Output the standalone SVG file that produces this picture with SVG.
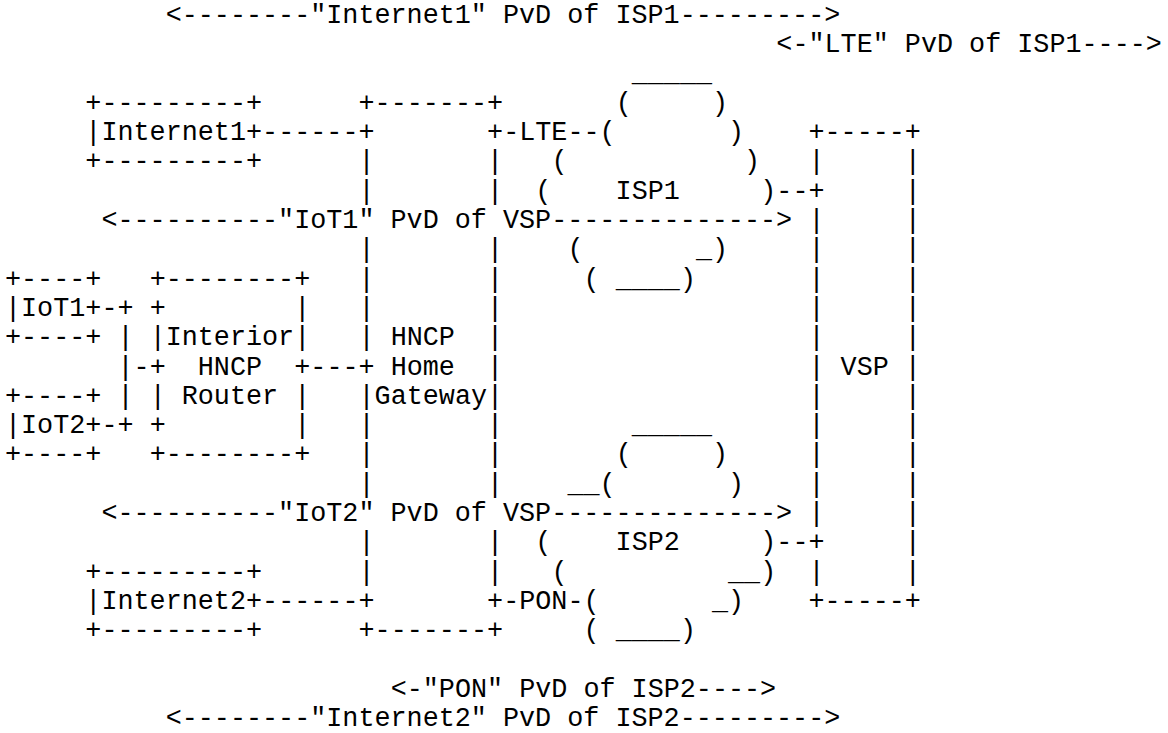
<svg xmlns="http://www.w3.org/2000/svg" width="1168" height="733" viewBox="0 0 1168 733" xml:space="preserve">
<style>
text { font-family: "Liberation Mono", "Courier New", monospace; font-size: 26.78px; fill: #000; white-space: pre; }
</style>
<rect width="1168" height="733" fill="#fff"/>
<g id="pvd-internet1"><text x="165.7" y="22.66">&lt;--------"Internet1" PvD of ISP1---------&gt;</text></g>
<g id="pvd-lte"><text x="776.36" y="51.98">&lt;-"LTE" PvD of ISP1----&gt;</text></g>
<g id="isp1">
<text x="631.73" y="81.3">_____</text>
<text x="615.66" y="110.62">(     )</text>
<text x="599.59" y="139.94">(       )</text>
<text x="551.38" y="169.26">(           )</text>
<text x="535.31" y="198.58">(    ISP1     )</text>
<text x="567.45" y="257.22">(       _)</text>
<text x="583.52" y="286.54">( ____)</text>
</g>
<g id="internet1">
<text x="85.35" y="110.62">+---------+</text>
<text x="85.35" y="139.94">|Internet1+</text>
<text x="85.35" y="169.26">+---------+</text>
</g>
<g id="internet2">
<text x="85.35" y="579.74">+---------+</text>
<text x="85.35" y="609.06">|Internet2+</text>
<text x="85.35" y="638.38">+---------+</text>
</g>
<g id="home-gateway">
<text x="358.54" y="110.62">+-------+</text>
<text x="358.54" y="139.94">+       +</text>
<text x="358.54" y="169.26">|       |</text>
<text x="358.54" y="198.58">|       |</text>
<text x="358.54" y="257.22">|       |</text>
<text x="358.54" y="286.54">|       |</text>
<text x="358.54" y="315.86">|       |</text>
<text x="358.54" y="345.18">| HNCP  |</text>
<text x="358.54" y="374.5">+ Home  |</text>
<text x="358.54" y="403.82">|Gateway|</text>
<text x="358.54" y="433.14">|       |</text>
<text x="358.54" y="462.46">|       |</text>
<text x="358.54" y="491.78">|       |</text>
<text x="358.54" y="550.42">|       |</text>
<text x="358.54" y="579.74">|       |</text>
<text x="358.54" y="609.06">+       +</text>
<text x="358.54" y="638.38">+-------+</text>
</g>
<g id="interior-router">
<text x="149.63" y="286.54">+--------+</text>
<text x="149.63" y="315.86">+        |</text>
<text x="149.63" y="345.18">|Interior|</text>
<text x="149.63" y="374.5">+  HNCP  +</text>
<text x="149.63" y="403.82">| Router |</text>
<text x="149.63" y="433.14">+        |</text>
<text x="149.63" y="462.46">+--------+</text>
</g>
<g id="iot1">
<text x="5" y="286.54">+----+</text>
<text x="5" y="315.86">|IoT1+</text>
<text x="5" y="345.18">+----+</text>
</g>
<g id="iot2">
<text x="5" y="403.82">+----+</text>
<text x="5" y="433.14">|IoT2+</text>
<text x="5" y="462.46">+----+</text>
</g>
<g id="vsp">
<text x="808.5" y="139.94">+-----+</text>
<text x="808.5" y="169.26">|     |</text>
<text x="808.5" y="198.58">+     |</text>
<text x="808.5" y="227.9">|     |</text>
<text x="808.5" y="257.22">|     |</text>
<text x="808.5" y="286.54">|     |</text>
<text x="808.5" y="315.86">|     |</text>
<text x="808.5" y="345.18">|     |</text>
<text x="808.5" y="374.5">| VSP |</text>
<text x="808.5" y="403.82">|     |</text>
<text x="808.5" y="433.14">|     |</text>
<text x="808.5" y="462.46">|     |</text>
<text x="808.5" y="491.78">|     |</text>
<text x="808.5" y="521.1">|     |</text>
<text x="808.5" y="550.42">+     |</text>
<text x="808.5" y="579.74">|     |</text>
<text x="808.5" y="609.06">+-----+</text>
</g>
<g id="isp2">
<text x="631.73" y="433.14">_____</text>
<text x="615.66" y="462.46">(     )</text>
<text x="567.45" y="491.78">__(       )</text>
<text x="535.31" y="550.42">(    ISP2     )</text>
<text x="551.38" y="579.74">(          __)</text>
<text x="583.52" y="609.06">(       _)</text>
<text x="583.52" y="638.38">( ____)</text>
</g>
<g id="connectors">
<text x="262.12" y="139.94">------</text>
<text x="262.12" y="609.06">------</text>
<text x="503.17" y="139.94">-LTE--</text>
<text x="503.17" y="609.06">-PON-</text>
<text x="776.36" y="198.58">--</text>
<text x="776.36" y="550.42">--</text>
<text x="310.33" y="374.5">---</text>
<text x="101.42" y="315.86">-+</text>
<text x="117.49" y="345.18">|</text>
<text x="117.49" y="374.5">|-</text>
<text x="117.49" y="403.82">|</text>
<text x="101.42" y="433.14">-+</text>
</g>
<g id="pvd-iot1"><text x="101.42" y="227.9">&lt;----------"IoT1" PvD of VSP--------------&gt;</text></g>
<g id="pvd-iot2"><text x="101.42" y="521.1">&lt;----------"IoT2" PvD of VSP--------------&gt;</text></g>
<g id="pvd-pon"><text x="390.68" y="697.02">&lt;-"PON" PvD of ISP2----&gt;</text></g>
<g id="pvd-internet2"><text x="165.7" y="726.34">&lt;--------"Internet2" PvD of ISP2---------&gt;</text></g>
</svg>
